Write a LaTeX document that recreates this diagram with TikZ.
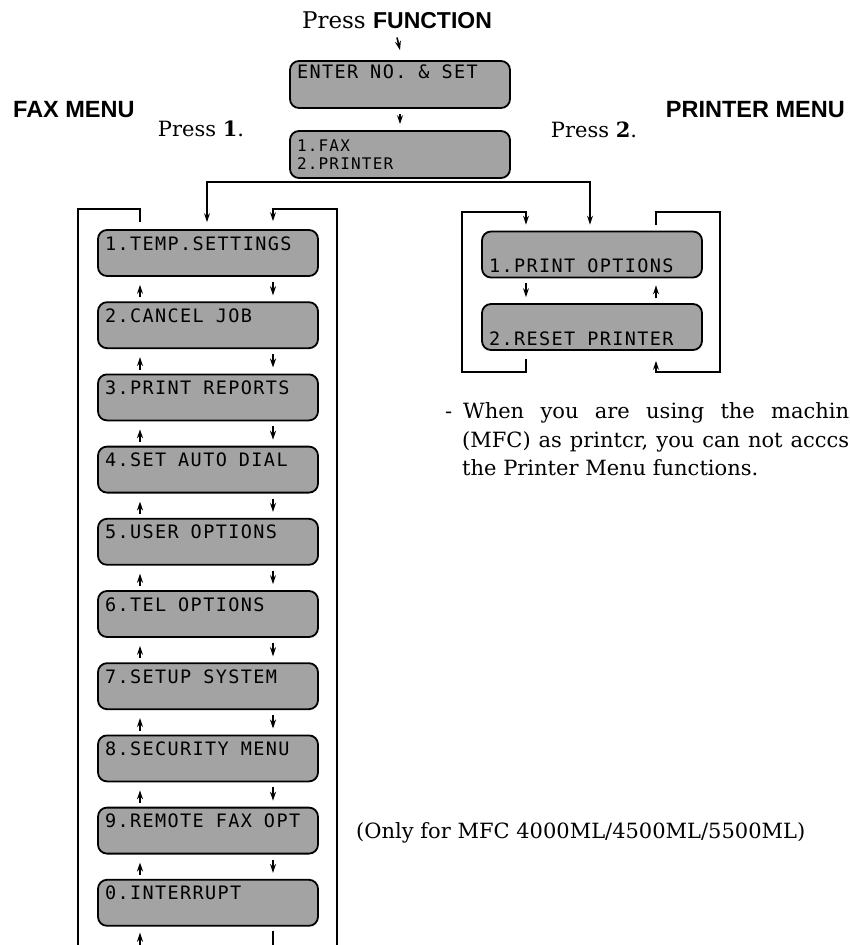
\documentclass[tikz,border=0pt]{standalone}
\usepackage{fontspec}
\setmainfont{DejaVu Serif}
\newfontfamily\hsans{Liberation Sans}
\newfontfamily\lcdfont[LetterSpace=7.5]{DejaVu Sans Mono}
\usetikzlibrary{calc,arrows.meta}
\tikzset{
  lcd/.style={draw=black, line width=1.8pt, rounded corners=9pt, fill=black!36,
    minimum width=220pt, minimum height=46pt, inner xsep=7pt, inner ysep=0pt,
    text width=206pt, align=left, text=black,
    font=\lcdfont\fontsize{18.5}{20}\selectfont,
    execute at begin node={\spaceskip=12pt\relax}},
  textup/.style={text height=20pt, text depth=26pt},
  textdown/.style={text height=41pt, text depth=5pt},
  ln/.style={line width=1.6pt},
  arr/.style={line width=1.6pt, -{Stealth[length=9pt,width=6pt]}},
  serift/.style={inner sep=0pt, font=\fontsize{21}{25}\selectfont},
  headt/.style={inner sep=0pt, font=\hsans\bfseries\fontsize{23.5}{28}\selectfont},
}
\begin{document}
\begin{tikzpicture}[x=1pt,y=-1pt]
\useasboundingbox (0,0) rectangle (849,945);

% top
\node[anchor=base, inner sep=0pt, font=\fontsize{23}{28}\selectfont] (pf) at (397,28) {Press {\hsans\bfseries FUNCTION}};
\node[lcd, text height=17pt, text depth=30pt, minimum height=47pt] (en) at (400,84.5) {ENTER NO. \& SET};
\node[lcd, inner ysep=4pt, minimum height=47pt, font=\lcdfont\fontsize{16}{18}\selectfont] (fx) at (400,154.5) {1.FAX\\2.PRINTER};
\draw[arr] ($(pf.south)+(0,9)$) -- ($(en.north)+(0,-10)$);
\draw[arr] ($(en.south)+(0,5)$) -- ($(fx.north)+(0,-6)$);

% headings
\node[headt, anchor=base west] (fm) at (13,117) {FAX MENU};
\node[headt, anchor=base east] (pm) at (845,117) {PRINTER MENU};
\node[serift, anchor=base] (p1l) at (201,136) {Press \textbf{1}.};
\node[serift, anchor=base] (p2l) at (594,137) {Press \textbf{2}.};

% fax menu boxes
\foreach \n/\t [count=\k from 0] in {1/1.TEMP.SETTINGS, 2/2.CANCEL JOB, 3/3.PRINT REPORTS,
  4/4.SET AUTO DIAL, 5/5.USER OPTIONS, 6/6.TEL OPTIONS, 7/7.SETUP SYSTEM,
  8/8.SECURITY MENU, 9/9.REMOTE FAX OPT, 0/0.INTERRUPT}{
  \pgfmathsetmacro\yy{253+72.2*\k}
  \node[lcd, textup] (fa\n) at (208,\yy) {\t};
}
\foreach \a/\b in {1/2,2/3,3/4,4/5,5/6,6/7,7/8,8/9,9/0}{
  \draw[arr] ($(fa\b.north)+(-68,-4)$) -- ($(fa\a.south)+(-68,8)$);
  \draw[arr] ($(fa\a.south)+(65,5)$) -- ($(fa\b.north)+(65,-6)$);
}

% printer menu boxes
\node[lcd, textdown] (p1) at (592,254.5) {1.PRINT OPTIONS};
\node[lcd, textdown] (p2) at (592,327) {2.RESET PRINTER};
\draw[arr] ($(p1.south)+(-66,5)$) -- ($(p2.north)+(-66,-6)$);
\draw[arr] ($(p2.north)+(64,-5)$) -- ($(p1.south)+(64,7)$);

% connectors from menu selection
\draw[arr] ($(fx.south)+(0,3)$) -| ($(fa1.north)+(-1,-7)$);
\draw[arr] ($(fx.south)+(0,3)$) -| ($(p1.north)+(-2,-6)$);

% fax loops
\coordinate (flt) at (78,209);
\coordinate (flb) at (78,946);
\coordinate (flb2) at (140,946);
\coordinate (frt) at (337,209);
\coordinate (frb) at (337,946);
\coordinate (frb2) at (273,946);
\draw[ln] ($(fa1.north)+(-68,-7)$) |- (flt) -- (flb);
\draw[arr] (flb2) -- ($(fa0.south)+(-68,6)$);
\draw[arr] (frb) -- (frt) -| ($(fa1.north)+(65,-8)$);
\draw[ln] ($(fa0.south)+(65,4)$) -- (frb2);

% printer loops
\coordinate (pl1) at (462,372);
\coordinate (pl2) at (462,212);
\coordinate (pr1) at (720,212);
\coordinate (pr2) at (720,372);
\draw[arr] ($(p2.south)+(-66,8)$) |- (pl1) -- (pl2) -| ($(p1.north)+(-66,-6)$);
\draw[arr] ($(p1.north)+(64,-6)$) |- (pr1) -- (pr2) -| ($(p2.south)+(64,10)$);

% notes
\node[serift, anchor=base west] (nd) at (445,418) {-};
\node[serift, anchor=base west] (n1) at (463,418) {\makebox[386pt][s]{When you are using the machin}};
\node[serift, anchor=base west] (n2) at (462,447) {\makebox[387pt][s]{(MFC) as printcr, you can not acccs}};
\node[serift, anchor=base west] (n3) at (462,475) {the Printer Menu functions.};
\node[serift, anchor=base west] (on) at (356,838) {(Only for MFC 4000ML/4500ML/5500ML)};
\end{tikzpicture}
\end{document}
